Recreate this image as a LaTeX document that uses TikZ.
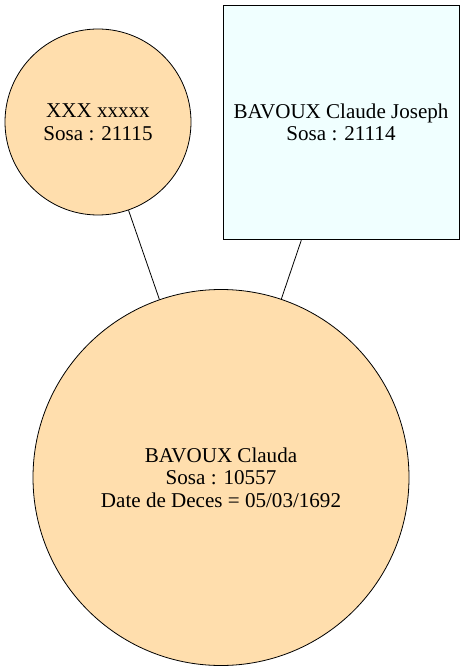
\documentclass[tikz,border=0pt]{standalone}
\usepackage{fontspec}
\setmainfont{Liberation Serif}
\usetikzlibrary{positioning}
\definecolor{colorP}{HTML}{FFDEAD}
\definecolor{colorB}{HTML}{F0FFFF}
\begin{document}
\begin{tikzpicture}[x=0.75pt,y=-0.75pt,line width=0.6pt,every node/.append style={align=center,font=\fontsize{15.8pt}{17pt}\selectfont},person/.style={draw, circle, fill=colorP, inner sep=0pt},pbox/.style={draw, rectangle, fill=colorB, inner sep=0pt},]
    \useasboundingbox (0,0) rectangle (464,670);
    \node [person, minimum size=139.5pt] (P21115) at (98,122) {XXX xxxxx\\Sosa : 21115};
    \node [pbox, minimum width=177pt, minimum height=176pt] (P21114) at (341,122.5) {BAVOUX Claude Joseph\\Sosa : 21114};
    \node [person, minimum size=282pt] (P10557) at (221,477.5) {BAVOUX Clauda\\Sosa : 10557\\Date de Deces = 05/03/1692};
    \draw (P21115) -- (P10557);
    \draw (P21114) -- (P10557);
\end{tikzpicture}
\end{document}
